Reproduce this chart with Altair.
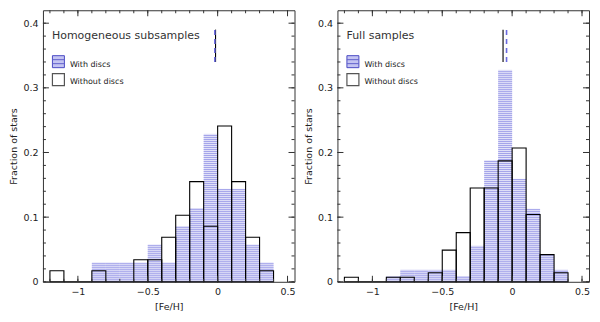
import altair as alt
import pandas as pd

# ---------------- data ----------------
bin_lo = [-1.2, -1.1, -1.0, -0.9, -0.8, -0.7, -0.6, -0.5, -0.4, -0.3, -0.2, -0.1, 0.0, 0.1, 0.2, 0.3]
bin_width = 0.1

homog_with = [0, 0, 0, 0.029, 0.029, 0.029, 0.029, 0.057, 0.029, 0.086, 0.114, 0.229, 0.143, 0.143, 0.057, 0.029]
homog_without = [0.017, 0, 0, 0.017, 0, 0, 0.034, 0.034, 0.069, 0.103, 0.155, 0.086, 0.241, 0.155, 0.069, 0.017]

full_with = [0, 0, 0, 0.009, 0.019, 0.019, 0.019, 0.019, 0.009, 0.056, 0.188, 0.328, 0.159, 0.112, 0.042, 0.019]
full_without = [0.007, 0, 0, 0.007, 0.007, 0, 0.014, 0.049, 0.076, 0.145, 0.145, 0.187, 0.207, 0.104, 0.042, 0.014]

# median markers: (without discs, with discs)
homog_medians = [-0.015, -0.02]
full_medians = [-0.065, -0.04]

panel_titles = ["Homogeneous subsamples", "Full samples"]
legend_labels = ["With discs", "Without discs"]

x_major = [-1.0, -0.5, 0.0, 0.5]
x_minor = [-1.2, -1.1, -1.0, -0.9, -0.8, -0.7, -0.6, -0.5, -0.4, -0.3, -0.2, -0.1, 0.0, 0.1, 0.2, 0.3, 0.4, 0.5]
y_major = [0.0, 0.1, 0.2, 0.3, 0.4]
y_minor = [0.02 * i for i in range(21)]

# ---------------- layout / style ----------------
W, H = 252, 272
XMIN, XMAX = -1.25, 0.55
YMAX = 0.42
HATCH_STEP = 2 * YMAX / H  # one hatch line every 2 px
FONT = "DejaVu Sans"
HATCH_COLOR = "#a4a4ea"
HATCH_FILL = "#e2e2f8"
LINE_COLOR = "#000000"

xscale = alt.Scale(domain=[XMIN, XMAX], nice=False, zero=False)
yscale = alt.Scale(domain=[0, YMAX], nice=False, zero=False)
xaxis = alt.Axis(title="[Fe/H]", values=x_major, format=".1~f", ticks=False, domain=False, grid=False,
                 labelPadding=5, titlePadding=5)
yaxis = alt.Axis(title="Fraction of stars", values=y_major, format=".1~f", ticks=False, domain=False, grid=False,
                 labelPadding=5, titlePadding=4)


def one_row():
    return pd.DataFrame({"a": [0]})


def panel(with_vals, without_vals, medians, title):
    df_h = pd.DataFrame({
        "lo": bin_lo,
        "hi": [round(b + bin_width, 2) for b in bin_lo],
        "with_v": with_vals,
    })
    df_o = pd.DataFrame({
        "blo": bin_lo,
        "bhi": [round(b + bin_width, 2) for b in bin_lo],
        "without_v": without_vals,
    })

    fill = alt.Chart(df_h).mark_rect(fill=HATCH_FILL, strokeWidth=0).encode(
        x=alt.X("lo:Q", scale=xscale, axis=xaxis),
        x2="hi:Q",
        y=alt.Y("with_v:Q", scale=yscale, axis=yaxis),
        y2=alt.datum(0),
    )

    hatch = alt.Chart(df_h).transform_calculate(
        levels=f"sequence({HATCH_STEP / 4}, datum.with_v, {HATCH_STEP})"
    ).transform_flatten(["levels"]).mark_rule(color=HATCH_COLOR, strokeWidth=1).encode(
        x=alt.X("lo:Q", scale=xscale, axis=xaxis),
        x2="hi:Q",
        y=alt.Y("levels:Q", scale=yscale, axis=yaxis),
    )

    outline = alt.Chart(df_o).mark_rect(fill="transparent", stroke=LINE_COLOR, strokeWidth=1.1).encode(
        x=alt.X("blo:Q", scale=xscale, axis=xaxis),
        x2="bhi:Q",
        y=alt.Y("without_v:Q", scale=yscale, axis=yaxis),
        y2=alt.datum(0),
    )

    med_df = pd.DataFrame({"m": [medians[0]], "y0": [0.34], "y1": [0.39]})
    med_without = alt.Chart(med_df).mark_rule(color=LINE_COLOR, strokeWidth=1.1).encode(
        x=alt.X("m:Q", scale=xscale, axis=xaxis),
        y=alt.Y("y0:Q", scale=yscale, axis=yaxis),
        y2="y1:Q",
    )
    med_df2 = pd.DataFrame({"mw": [medians[1]], "y0": [0.34], "y1": [0.39]})
    med_with = alt.Chart(med_df2).mark_rule(color="#6a6ae0", strokeWidth=1.6, strokeDash=[5, 4]).encode(
        x=alt.X("mw:Q", scale=xscale, axis=xaxis),
        y=alt.Y("y0:Q", scale=yscale, axis=yaxis),
        y2="y1:Q",
    )

    tick_color = "#333333"
    xmaj = pd.DataFrame({"v": x_major})
    xmin_ = pd.DataFrame({"v": x_minor})
    ymaj = pd.DataFrame({"v": y_major})
    ymin_ = pd.DataFrame({"v": y_minor})

    def xticks(d, ln):
        bot = alt.Chart(d).mark_rule(color=tick_color, strokeWidth=1).encode(
            x=alt.X("v:Q", scale=xscale, axis=xaxis), y=alt.value(H), y2=alt.value(H - ln))
        top = alt.Chart(d).mark_rule(color=tick_color, strokeWidth=1).encode(
            x=alt.X("v:Q", scale=xscale, axis=xaxis), y=alt.value(0), y2=alt.value(ln))
        return [bot, top]

    def yticks(d, ln):
        lef = alt.Chart(d).mark_rule(color=tick_color, strokeWidth=1).encode(
            y=alt.Y("v:Q", scale=yscale, axis=yaxis), x=alt.value(0), x2=alt.value(ln))
        rig = alt.Chart(d).mark_rule(color=tick_color, strokeWidth=1).encode(
            y=alt.Y("v:Q", scale=yscale, axis=yaxis), x=alt.value(W), x2=alt.value(W - ln))
        return [lef, rig]

    ticks = xticks(xmaj, 6) + xticks(xmin_, 3) + yticks(ymaj, 6) + yticks(ymin_, 3)

    title_txt = alt.Chart(one_row()).mark_text(
        font=FONT, fontSize=11, color="#333333", align="left", baseline="middle"
    ).encode(x=alt.value(9), y=alt.value(26), text=alt.value(title))

    patch1 = alt.Chart(one_row()).mark_rect(fill="#c4c4f2", stroke="#4a4ac4", strokeWidth=1).encode(
        x=alt.value(9.5), x2=alt.value(21.5), y=alt.value(45.5), y2=alt.value(57.5))
    patch1_l1 = alt.Chart(one_row()).mark_rule(color="#6060cc", strokeWidth=1).encode(
        x=alt.value(9.5), x2=alt.value(21.5), y=alt.value(49.5))
    patch1_l2 = alt.Chart(one_row()).mark_rule(color="#6060cc", strokeWidth=1).encode(
        x=alt.value(9.5), x2=alt.value(21.5), y=alt.value(53.5))
    patch2 = alt.Chart(one_row()).mark_rect(fill="white", stroke="#555555", strokeWidth=1.2).encode(
        x=alt.value(9.5), x2=alt.value(21.5), y=alt.value(63.5), y2=alt.value(75.5))
    leg1 = alt.Chart(one_row()).mark_text(
        font=FONT, fontSize=8, color="#222222", align="left", baseline="middle"
    ).encode(x=alt.value(27), y=alt.value(55), text=alt.value(legend_labels[0]))
    leg2 = alt.Chart(one_row()).mark_text(
        font=FONT, fontSize=8, color="#222222", align="left", baseline="middle"
    ).encode(x=alt.value(27), y=alt.value(72), text=alt.value(legend_labels[1]))

    return alt.layer(
        fill, hatch, outline, med_without, med_with, *ticks,
        title_txt, patch1, patch1_l1, patch1_l2, patch2, leg1, leg2
    ).properties(width=W, height=H)


left = panel(homog_with, homog_without, homog_medians, panel_titles[0])
right = panel(full_with, full_without, full_medians, panel_titles[1])

chart = alt.hconcat(left, right, spacing=6).properties(
    padding={"top": 1, "left": 0, "right": 1, "bottom": 1}
).configure_view(
    stroke="#333333", strokeWidth=1
).configure_axis(
    labelFont=FONT, titleFont=FONT, labelFontSize=9.5, titleFontSize=9.5,
    labelColor="#222222", titleColor="#222222", titleFontWeight="normal"
)

chart.save("out.html", embed_options={"renderer": "svg", "actions": False})
